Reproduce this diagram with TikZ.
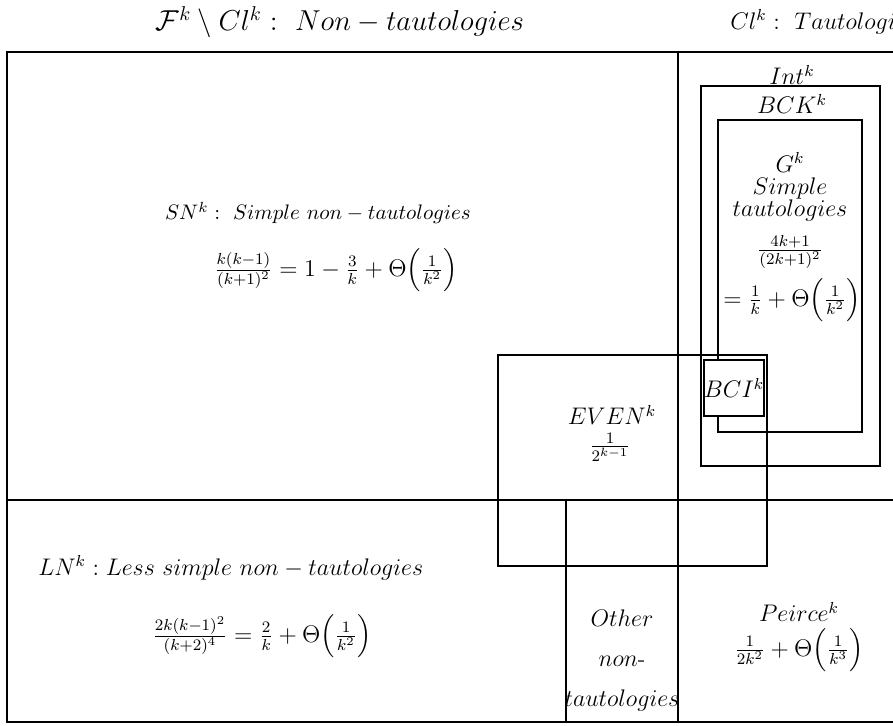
\documentclass[tikz,border=0pt]{standalone}
\usepackage{amsmath}
\tikzset{
    kasse/.style={line width=0.9pt},
    tekst/.style={inner sep=1pt, align=center},
    mellem/.style={font=\fontsize{11.5}{14}\selectfont}
}

\begin{document}
\begin{tikzpicture}[x=0.5pt,y=-0.5pt]
    \useasboundingbox (0,0) rectangle (893,725);
    \draw[kasse] (7,52) rectangle (910,722);
    \draw[kasse] (678,52) -- (678,722);
    \draw[kasse] (7,500) -- (910,500);
    \draw[kasse] (566,500) -- (566,722);
    \draw[kasse] (498,355) rectangle (767,566);
    \draw[kasse] (701,86) rectangle (880,466);
    \draw[kasse] (718,120) rectangle (862,432);
    \path node[tekst, font=\Large] (NT) at (340,22) {$\mathcal{F}^k\setminus Cl^k:\ Non-tautologies$}
        node[tekst, font=\large, anchor=west] (T) at (728,22) {$Cl^k:\ Tautologies$}
        node[tekst, scale=1.05, transform shape] (SN) at (318,213) {$SN^k:\ Simple\ non-tautologies$}
        node[tekst, font=\large] (SNf) at (336,270) {$\frac{k(k-1)}{(k+1)^2}=1-\frac{3}{k}+\Theta\Bigl(\frac{1}{k^2}\Bigr)$}
        node[tekst, mellem, anchor=west] (LN) at (36,568) {$LN^k: Less\ simple\ non-tautologies$}
        node[tekst, mellem] (LNf) at (262,636) {$\frac{2k(k-1)^2}{(k+2)^4}=\frac{2}{k}+\Theta\Bigl(\frac{1}{k^2}\Bigr)$}
        node[tekst, mellem] (EVEN) at (612,415) {$EVEN^k$}
        node[tekst, font=\large] (EVENf) at (610,447) {$\frac{1}{2^{k-1}}$}
        node[tekst, font=\large] (Int) at (792,75) {$Int^k$}
        node[tekst, font=\large] (BCK) at (792,104) {$BCK^k$}
        node[tekst, mellem] (G) at (790,187) {$G^k$\\[-3pt] $Simple$\\[-3pt] $tautologies$}
        node[tekst, mellem] (Gf) at (790,252) {$\frac{4k+1}{(2k+1)^2}$}
        node[tekst, mellem] (Gf2) at (792,300) {$=\frac{1}{k}+\Theta\Bigl(\frac{1}{k^2}\Bigr)$}
        node[tekst, mellem, kasse, draw, fill=white, minimum width=28pt, minimum height=28pt, inner sep=0pt] (BCI) at (734,388) {$BCI^k$}
        node[tekst, mellem] (O) at (622,660) {$Other$\\[6pt] $non$-\\[6pt] $tautologies$}
        node[tekst, mellem] (P) at (799,612) {$Peirce^k$}
        node[tekst, mellem] (Pf) at (799,650) {$\frac{1}{2k^2}+\Theta\Bigl(\frac{1}{k^3}\Bigr)$};
\end{tikzpicture}
\end{document}
